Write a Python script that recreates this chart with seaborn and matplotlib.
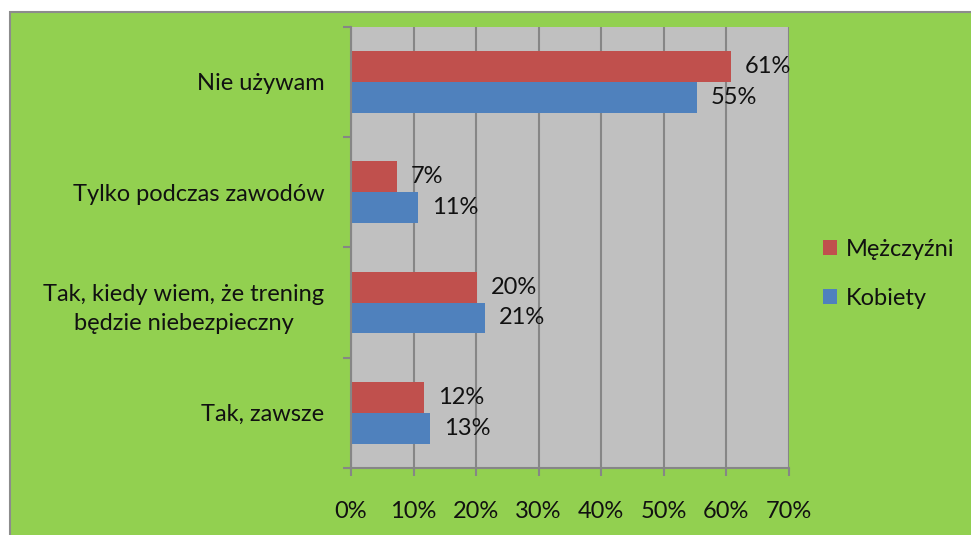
import numpy as np
import pandas as pd
import matplotlib
matplotlib.use("Agg")
import matplotlib.pyplot as plt
import seaborn as sns
from matplotlib.patches import Rectangle

categories = ["Nie używam", "Tylko podczas zawodów",
              "Tak, kiedy wiem, że trening\nbędzie niebezpieczny", "Tak, zawsze"]
men = [60.7, 7.4, 20.2, 11.7]
women = [55.3, 10.7, 21.4, 12.6]
series = ["Mężczyźni", "Kobiety"]
colors = ["#C0504D", "#4F81BD"]

df = pd.DataFrame({
    "kat": categories * 2,
    "plec": [series[0]] * 4 + [series[1]] * 4,
    "val": men + women,
})

sns.set_style("white")
plt.rcParams["font.family"] = ["Lato", "DejaVu Sans"]
FS = 17

fig = plt.figure(figsize=(9.71, 5.35), dpi=100, facecolor="white")
fig.patches.append(Rectangle((10 / 971, -0.1), 1.1, 1 - 12 / 535 + 0.1,
                             transform=fig.transFigure, facecolor="#92D050",
                             edgecolor="#8C8C8C", linewidth=1.5, zorder=-10))
ax = fig.add_axes([351 / 971, 1 - 468 / 535, (788.7 - 351) / 971, (468 - 26.7) / 535])
ax.set_facecolor("#C0C0C0")

sns.barplot(data=df, y="kat", x="val", hue="plec", hue_order=series,
            palette=colors, orient="h", width=0.56, ax=ax, saturation=1,
            order=categories, linewidth=0)

for cont in ax.containers:
    ax.bar_label(cont, labels=[f"{round(v)}%" for v in cont.datavalues],
                 padding=10, fontsize=FS, color="#111111")

ax.set_xlim(0, 70)
ax.set_ylim(3.5, -0.5)
ax.set_xticks(np.arange(0, 71, 10))
ax.set_xticklabels([f"{t}%" for t in range(0, 71, 10)], fontsize=FS, color="#111111")
ax.grid(axis="x", color="#868686", linewidth=1.5)
ax.set_axisbelow(True)
ax.tick_params(axis="x", direction="out", length=6, width=1.5, color="#868686",
               pad=18, bottom=True)
ax.tick_params(axis="y", which="major", length=0, pad=19, labelsize=FS,
               labelcolor="#111111")
ax.set_yticks([-0.5, 0.5, 1.5, 2.5, 3.5], minor=True)
ax.tick_params(axis="y", which="minor", direction="out", length=6, width=1.5,
               color="#868686", left=True)
for lab in ax.get_yticklabels():
    lab.set_multialignment("center")
    lab.set_linespacing(1.5)
ax.set_xlabel("")
ax.set_ylabel("")

for s in ["top", "right"]:
    ax.spines[s].set_visible(False)
for s in ["left", "bottom"]:
    ax.spines[s].set_color("#868686")
    ax.spines[s].set_linewidth(1.5)

handles, labels = ax.get_legend_handles_labels()
leg = ax.legend(handles, labels, loc="center left", bbox_to_anchor=(802 / 971, 1 - 274 / 535),
                bbox_transform=fig.transFigure, frameon=False, fontsize=FS,
                handlelength=0.6, handleheight=0.6, handletextpad=0.35, labelspacing=1.2)
for t in leg.get_texts():
    t.set_color("#111111")

fig.savefig("out.png", dpi=100, facecolor="white")
